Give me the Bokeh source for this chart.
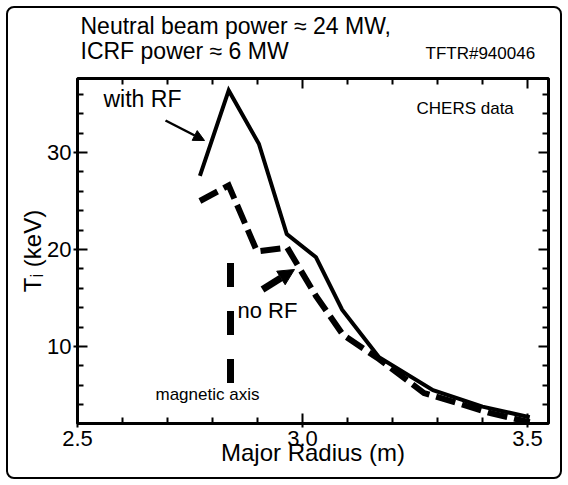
import math
from bokeh.plotting import figure
from bokeh.models import (Range1d, FixedTicker, LinearAxis, Label, Arrow,
                          NormalHead, PrintfTickFormatter, CustomJSTickFormatter)
from bokeh.embed import file_html
from bokeh.resources import INLINE

# ---------------- data ----------------
radius_with_rf = [2.772, 2.836, 2.903, 2.965, 3.03, 3.088, 3.17, 3.29, 3.40, 3.505]
ti_with_rf = [27.6, 36.4, 30.9, 21.6, 19.2, 13.8, 8.9, 5.5, 3.8, 2.7]

radius_no_rf = [2.772, 2.836, 2.899, 2.966, 3.03, 3.09, 3.17, 3.27, 3.42, 3.505]
ti_no_rf = [25.0, 26.6, 19.8, 20.2, 15.2, 11.2, 8.7, 5.2, 3.1, 2.2]

magnetic_axis_radius = [2.84, 2.84]
magnetic_axis_ti = [18.6, 6.2]

x_major_ticks = [2.5, 3.0, 3.5]
x_minor_ticks = [2.6, 2.7, 2.8, 2.9, 3.1, 3.2, 3.3, 3.4]
y_major_ticks = [10, 20, 30]
y_minor_ticks = [2, 4, 6, 8, 12, 14, 16, 18, 22, 24, 26, 28, 32, 34, 36]

title_line_1 = "Neutral beam power \u2248 24 MW,"
title_line_2 = "ICRF power \u2248 6  MW"
shot_label = "TFTR#940046"
x_label = "Major Radius (m)"
y_label = "T\u1d62 (keV)"

# ---------------- layout ----------------
FONT = "Liberation Sans"
W, H = 568, 485
FL, FT, FW, FH = 77, 78, 471, 345   # the figure sits at the page origin
X0, X1 = 2.5, 2.5 + FW / 450.0
Y0, Y1 = 2.06, 37.63


def dx(px):
    return X0 + (px - FL) / FW * (X1 - X0)


def dy(py):
    return Y0 + (FT + FH - py) / FH * (Y1 - Y0)


p = figure(frame_width=FW, frame_height=FH,
           x_range=Range1d(X0, X1), y_range=Range1d(Y0, Y1),
           output_backend="svg", toolbar_location=None,
           min_border_left=FL, min_border_top=FT,
           min_border_right=W - FL - FW, min_border_bottom=H - FT - FH,
           background_fill_color="white", border_fill_alpha=0)
# rounded outer border drawn by CSS, inset from the figure edge
p.styles = {"outline": "2px solid black", "outline-offset": "-8px",
            "border-radius": "14px"}
p.outline_line_color = "black"
p.outline_line_width = 3
p.xgrid.visible = False
p.ygrid.visible = False

xt = FixedTicker(ticks=x_major_ticks, minor_ticks=x_minor_ticks)
yt = FixedTicker(ticks=y_major_ticks, minor_ticks=y_minor_ticks)


def style_axis(ax, labels=True):
    ax.axis_line_color = None
    ax.major_tick_line_color = "black"
    ax.minor_tick_line_color = "black"
    ax.major_tick_line_width = 2
    ax.minor_tick_line_width = 2
    ax.major_tick_in = 10
    ax.minor_tick_in = 6
    ax.minor_tick_out = 0
    if labels:
        ax.major_tick_out = 4
        ax.major_label_text_font = FONT
        ax.major_label_text_font_size = "22px"
        ax.major_label_text_color = "black"
        ax.axis_label_text_font = FONT
        ax.axis_label_text_font_style = "normal"
        ax.axis_label_text_color = "black"
        ax.axis_label_text_font_size = "24px"
    else:
        ax.major_tick_out = 0
        ax.formatter = CustomJSTickFormatter(code="return ''")
        ax.major_label_text_font_size = "1px"
        ax.major_label_standoff = 0


p.xaxis.ticker = xt
p.xaxis.formatter = PrintfTickFormatter(format="%.1f")
p.yaxis.ticker = yt
for ax in p.xaxis + p.yaxis:
    style_axis(ax)
p.xaxis.major_label_standoff = 3
p.yaxis.major_label_standoff = 2
p.xaxis.axis_label = x_label
p.xaxis.axis_label_standoff = -10
p.yaxis.axis_label = y_label
p.yaxis.axis_label_standoff = -2

top_ax = LinearAxis(ticker=FixedTicker(ticks=x_major_ticks, minor_ticks=x_minor_ticks))
right_ax = LinearAxis(ticker=FixedTicker(ticks=y_major_ticks, minor_ticks=y_minor_ticks))
style_axis(top_ax, labels=False)
style_axis(right_ax, labels=False)
p.add_layout(top_ax, "above")
p.add_layout(right_ax, "right")

# ---------------- data marks ----------------
p.line(magnetic_axis_radius, magnetic_axis_ti, line_color="black", line_width=7,
       line_dash="24 24", line_cap="butt")
p.line(radius_no_rf, ti_no_rf, line_color="black", line_width=6,
       line_dash="20 7", line_join="miter", line_cap="butt")
p.line(radius_with_rf, ti_with_rf, line_color="black", line_width=4,
       line_join="miter")

# ---------------- text ----------------


def lab(px, py, text, size, place="center", **kw):
    # py is the wanted baseline on the page; Label draws ~0.42 em lower
    fs = float(size.replace("px", ""))
    lbl = Label(x=dx(px), y=dy(py - 0.42 * fs), text=text, text_font=FONT,
                text_font_size=size, text_color="black",
                text_baseline="alphabetic", text_align=kw.pop("align", "left"), **kw)
    p.add_layout(lbl, place)


# labels outside the frame live in the top side panel (so they are not clipped)
lab(80, 35, title_line_1, "23px", place="above")
lab(80, 60, title_line_2, "23px", place="above")
lab(425, 60, shot_label, "17px", place="above")

lab(103, 108, "with RF", "23px")
lab(416, 115, "CHERS data", "17px")
lab(237, 319, "no RF", "22px")
lab(155, 401, "magnetic axis", "17px")

# arrows
p.add_layout(Arrow(x_start=dx(165), y_start=dy(120), x_end=dx(204), y_end=dy(140),
                   line_width=2.5, line_color="black",
                   end=NormalHead(size=11, fill_color="black", line_color="black")))
p.add_layout(Arrow(x_start=dx(262), y_start=dy(289), x_end=dx(294), y_end=dy(269),
                   line_width=7, line_color="black",
                   end=NormalHead(size=16, fill_color="black", line_color="black")))

open("out.html", "w").write(file_html(p, INLINE))
